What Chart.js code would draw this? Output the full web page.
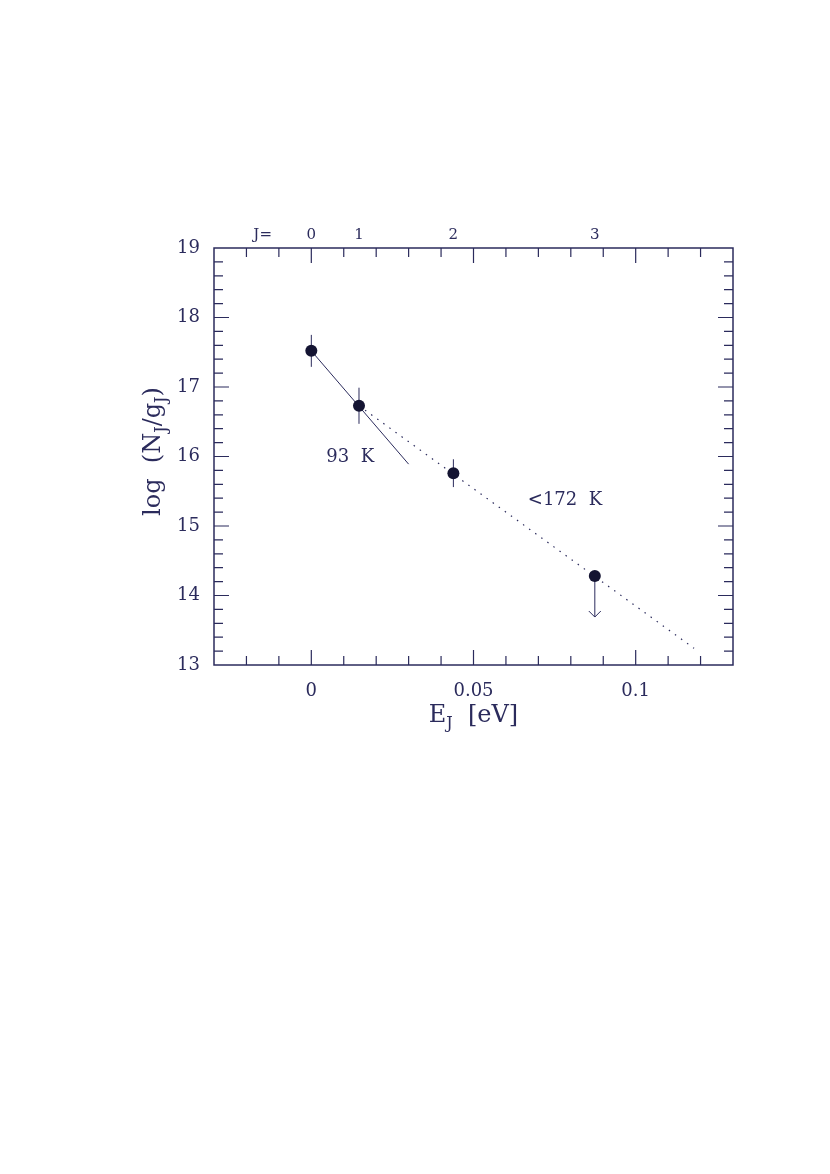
<!DOCTYPE html>
<html>
<head>
<meta charset="utf-8">
<title>log(NJ/gJ) vs EJ</title>
<script src="https://cdn.jsdelivr.net/npm/chart.js@4/dist/chart.umd.min.js"></script>
<style>
  html, body { margin: 0; padding: 0; background: #fff; }
  #c { display: block; }
</style>
</head>
<body>
<canvas id="c" width="830" height="1174"></canvas>
<script>
// measured level populations
const energies = [0, 0.0147, 0.0438, 0.0874]
const logNg = [17.52, 16.73, 15.76, 14.28]
const errSize = [0.23, 0.26, 0.2, 0]
const isUpperLimit = [false, false, false, true]
const limitArrowTo = 13.69

// excitation temperature fits
const fit93x = [0, 0.03]
const fit93y = [17.52, 15.89]
const fit172x = [0.0147, 0.118]
const fit172y = [16.73, 13.24]

// axes
const xTickValues = [0, 0.05, 0.1]
const xTickLabels = ["0", "0.05", "0.1"]
const jTickValues = [-0.015, 0, 0.0147, 0.0438, 0.0874]
const jTickLabels = ["J=", "0", "1", "2", "3"]

// text labels in the plot
const noteTexts = ["93  K", "<172  K"]
const noteX = [0.012, 0.0782]
const noteY = [15.99, 15.37]

const ink = "#2b2b5c"
const dotInk = "#141432"
const serif = "'DejaVu Serif', serif"

function toPoints(xs, ys) {
  return xs.map((x, i) => ({ x: x, y: ys[i] }))
}

// draws text with subscripts, parts = [[text, isSub], ...]
function drawRich(ctx, parts, x, y, size) {
  const subSize = Math.round(size * 0.68)
  let total = 0
  parts.forEach((p) => {
    ctx.font = (p[1] ? subSize : size) + "px " + serif
    total += ctx.measureText(p[0]).width
  })
  let cx = x - total / 2
  ctx.textAlign = "left"
  ctx.textBaseline = "alphabetic"
  parts.forEach((p) => {
    ctx.font = (p[1] ? subSize : size) + "px " + serif
    ctx.fillText(p[0], cx, p[1] ? y + 6 : y)
    cx += ctx.measureText(p[0]).width
  })
}

const framePlugin = {
  id: "frame",
  beforeDatasetsDraw(chart) {
    const ctx = chart.ctx
    const a = chart.chartArea
    const xs = chart.scales.x
    const ys = chart.scales.y
    ctx.save()
    ctx.strokeStyle = ink
    ctx.lineWidth = 1.5
    ctx.strokeRect(a.left, a.top, a.right - a.left, a.bottom - a.top)

    // inward ticks on all four sides
    ctx.lineWidth = 1.2
    ctx.beginPath()
    for (let i = -2; i <= 12; i++) {
      const v = i / 100
      const px = xs.getPixelForValue(v)
      const len = i % 5 === 0 ? 15 : 9
      ctx.moveTo(px, a.bottom); ctx.lineTo(px, a.bottom - len)
      ctx.moveTo(px, a.top); ctx.lineTo(px, a.top + len)
    }
    for (let i = 66; i <= 94; i++) {
      const v = i / 5
      const py = ys.getPixelForValue(v)
      const len = i % 5 === 0 ? 15 : 9
      ctx.moveTo(a.left, py); ctx.lineTo(a.left + len, py)
      ctx.moveTo(a.right, py); ctx.lineTo(a.right - len, py)
    }
    ctx.stroke()

    // error bars
    ctx.lineWidth = 1
    ctx.beginPath()
    energies.forEach((e, i) => {
      if (!errSize[i]) return
      const px = xs.getPixelForValue(e)
      ctx.moveTo(px, ys.getPixelForValue(logNg[i] + errSize[i]))
      ctx.lineTo(px, ys.getPixelForValue(logNg[i] - errSize[i]))
    })
    ctx.stroke()

    // upper limit arrow
    energies.forEach((e, i) => {
      if (!isUpperLimit[i]) return
      const px = xs.getPixelForValue(e)
      const py0 = ys.getPixelForValue(logNg[i])
      const py1 = ys.getPixelForValue(limitArrowTo)
      ctx.beginPath()
      ctx.moveTo(px, py0); ctx.lineTo(px, py1)
      ctx.moveTo(px - 6, py1 - 6); ctx.lineTo(px, py1); ctx.lineTo(px + 6, py1 - 6)
      ctx.stroke()
    })
    ctx.restore()
  },
  afterDraw(chart) {
    const ctx = chart.ctx
    const a = chart.chartArea
    const xs = chart.scales.x
    const ys = chart.scales.y
    ctx.save()
    ctx.fillStyle = ink

    // notes
    ctx.font = "18px " + serif
    ctx.textAlign = "center"
    ctx.textBaseline = "middle"
    noteTexts.forEach((t, i) => {
      ctx.fillText(t, xs.getPixelForValue(noteX[i]), ys.getPixelForValue(noteY[i]))
    })

    // axis titles
    drawRich(ctx, [["E", false], ["J", true], ["  [eV]", false]], (a.left + a.right) / 2, a.bottom + 57, 24)
    ctx.translate(a.left - 54, (a.top + a.bottom) / 2 - 5)
    ctx.rotate(-Math.PI / 2)
    drawRich(ctx, [["log  (N", false], ["J", true], ["/g", false], ["J", true], [")", false]], 0, 0, 24)
    ctx.restore()
  },
}

const ctx = document.getElementById("c").getContext("2d")

new Chart(ctx, {
  type: "scatter",
  data: {
    datasets: [
      {
        label: "levels",
        data: toPoints(energies, logNg),
        pointRadius: 6,
        pointHoverRadius: 6,
        pointBackgroundColor: dotInk,
        pointBorderWidth: 0,
        showLine: false,
      },
      {
        label: "93 K",
        data: toPoints(fit93x, fit93y),
        showLine: true,
        pointRadius: 0,
        borderColor: ink,
        borderWidth: 1,
      },
      {
        label: "172 K",
        data: toPoints(fit172x, fit172y),
        showLine: true,
        pointRadius: 0,
        borderColor: ink,
        borderWidth: 1.2,
        borderDash: [1.5, 6],
      },
    ],
  },
  options: {
    responsive: false,
    animation: false,
    events: [],
    layout: { padding: { left: 0, top: 0, right: 97, bottom: 409 } },
    plugins: {
      legend: { display: false },
      tooltip: { enabled: false },
    },
    scales: {
      x: {
        type: "linear",
        position: "bottom",
        min: -0.03,
        max: 0.13,
        grid: { display: false, drawTicks: false },
        border: { display: false },
        afterBuildTicks: (s) => { s.ticks = xTickValues.map((v) => ({ value: v })) },
        afterFit: (s) => { s.height = 100 },
        ticks: {
          padding: 16,
          color: ink,
          font: { family: serif, size: 18 },
          maxRotation: 0,
          callback: (v) => xTickLabels[xTickValues.indexOf(v)],
        },
      },
      xTop: {
        type: "linear",
        position: "top",
        min: -0.03,
        max: 0.13,
        grid: { display: false, drawTicks: false },
        border: { display: false },
        afterBuildTicks: (s) => { s.ticks = jTickValues.map((v) => ({ value: v })) },
        afterFit: (s) => { s.height = 248 },
        ticks: {
          padding: 4,
          color: ink,
          font: { family: serif, size: 15 },
          maxRotation: 0,
          autoSkip: false,
          callback: (v) => jTickLabels[jTickValues.indexOf(v)],
        },
      },
      y: {
        type: "linear",
        min: 13,
        max: 19,
        grid: { display: false, drawTicks: false },
        border: { display: false },
        afterFit: (s) => { s.width = 214 },
        ticks: {
          stepSize: 1,
          padding: 14,
          color: ink,
          font: { family: serif, size: 18 },
        },
      },
    },
  },
  plugins: [framePlugin],
})
</script>
</body>
</html>
